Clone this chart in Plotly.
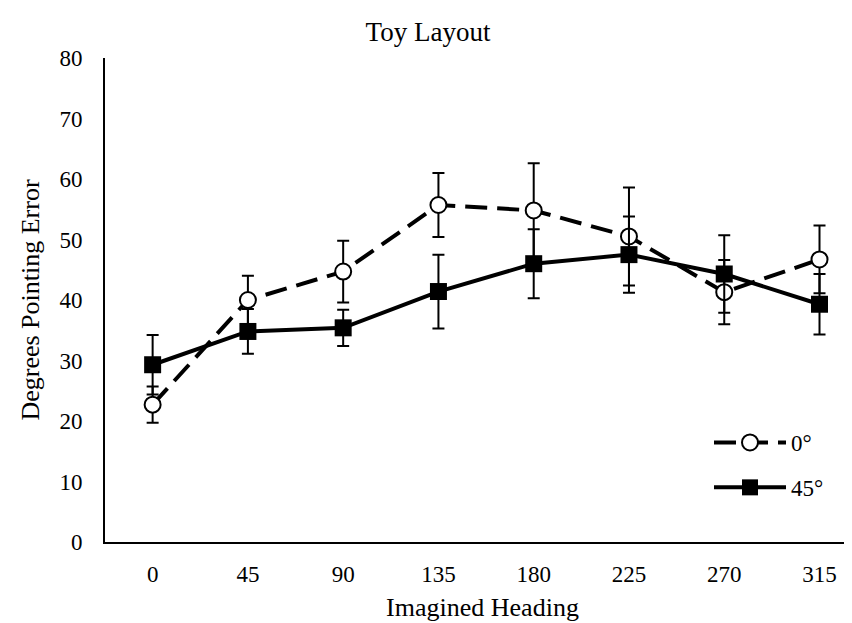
import plotly.graph_objects as go

headings = ["0", "45", "90", "135", "180", "225", "270", "315"]
deg0 = [22.7, 40.0, 44.7, 55.7, 54.8, 50.5, 41.3, 46.7]
deg0_err = [3.0, 4.0, 5.1, 5.3, 7.8, 8.1, 5.3, 5.6]
deg45 = [29.3, 34.8, 35.4, 41.4, 46.0, 47.5, 44.3, 39.3]
deg45_err = [4.9, 3.7, 3.0, 6.1, 5.7, 6.3, 6.4, 5.0]
y_ticks = [0, 10, 20, 30, 40, 50, 60, 70, 80]

FONT = "Liberation Serif, Times New Roman, serif"

fig = go.Figure()
fig.add_trace(go.Scatter(
    x=headings, y=deg0, name="0°", mode="lines+markers",
    legendgroup="a",
    line=dict(color="black", width=4, dash="22px,10px"),
    marker=dict(symbol="circle", size=16, color="white", line=dict(color="black", width=2)),
    error_y=dict(type="data", array=deg0_err, visible=True, color="black", thickness=2, width=6),
))
fig.add_trace(go.Scatter(
    x=headings, y=deg45, name="45°", mode="lines+markers",
    legendgroup="b",
    line=dict(color="black", width=4),
    marker=dict(symbol="square", size=17, color="black", line=dict(color="black", width=0)),
    error_y=dict(type="data", array=deg45_err, visible=True, color="black", thickness=2, width=6),
))

fig.update_layout(
    width=852, height=623,
    margin=dict(l=97, r=0, t=50, b=89),
    paper_bgcolor="white", plot_bgcolor="white",
    font=dict(family=FONT, size=23, color="black"),
    title=dict(text="Toy Layout", x=0.493, xref="container", xanchor="center",
               y=0.963, yref="container", yanchor="middle",
               font=dict(family=FONT, size=27, color="black")),
    xaxis=dict(
        type="category", range=[-0.5, 7.425],
        showline=True, linecolor="black", linewidth=2,
        showgrid=False, zeroline=False, ticks="",
        ticklabelstandoff=10,
        tickfont=dict(family=FONT, size=23, color="black"),
        title=dict(text="Imagined Heading", standoff=12,
                   font=dict(family=FONT, size=26, color="black")),
    ),
    yaxis=dict(
        range=[0, 80], tickvals=y_ticks,
        showline=True, linecolor="black", linewidth=2,
        showgrid=False, zeroline=False, ticks="",
        ticklabelstandoff=16,
        tickfont=dict(family=FONT, size=23, color="black"),
        title=dict(text="Degrees Pointing Error", standoff=12,
                   font=dict(family=FONT, size=26, color="black")),
    ),
    legend=dict(
        x=0.80, y=0.25, xanchor="left", yanchor="top",
        bgcolor="rgba(0,0,0,0)", font=dict(family=FONT, size=23, color="black"),
        tracegroupgap=12, itemwidth=72,
    ),
    showlegend=True,
)

fig.write_html("out.html")
